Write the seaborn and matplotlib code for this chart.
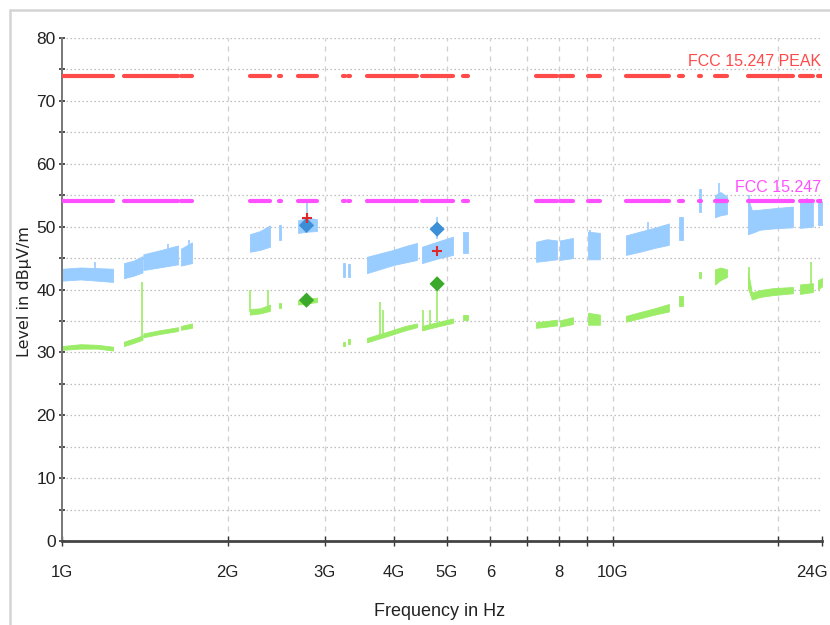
import numpy as np
import pandas as pd
import matplotlib
matplotlib.use("Agg")
import matplotlib.pyplot as plt
from matplotlib.lines import Line2D
from matplotlib.transforms import ScaledTranslation
import seaborn as sns

# ---------------- data (GHz / dBuV/m) ----------------
seg_start = [1.000, 1.296, 1.405, 1.645, 2.194, 2.478, 2.683, 3.238, 3.300, 3.579, 4.505,
             5.350, 7.260, 8.020, 9.020, 10.57, 13.20, 14.35, 15.34, 17.61, 21.88, 23.60]
seg_stop = [1.238, 1.400, 1.624, 1.722, 2.386, 2.500, 2.904, 3.270, 3.334, 4.412, 5.129,
            5.460, 7.920, 8.470, 9.480, 12.65, 13.40, 14.45, 16.13, 21.25, 23.10, 24.00]

limit_peak = 74.0
limit_avg = 54.0

# trace envelope points: segment id, frequency, peak lo/hi, average lo/hi
tr_seg = [0, 0, 0, 0, 1, 1, 1, 2, 2, 2, 3, 3, 4, 4, 4, 5, 5, 6, 6, 6, 7, 7, 8, 8,
          9, 9, 9, 9, 9, 10, 10, 10, 11, 11, 12, 12, 12, 13, 13, 14, 14,
          15, 15, 15, 15, 16, 16, 17, 17, 18, 18, 18, 19, 19, 19, 19, 19, 20, 20, 21, 21]
tr_f = [1.000, 1.080, 1.160, 1.238, 1.296, 1.350, 1.400, 1.405, 1.500, 1.624, 1.645, 1.722,
        2.194, 2.290, 2.386, 2.478, 2.500, 2.683, 2.790, 2.904, 3.238, 3.270, 3.300, 3.334,
        3.579, 3.800, 4.000, 4.200, 4.412, 4.505, 4.800, 5.129, 5.350, 5.460,
        7.260, 7.600, 7.920, 8.020, 8.470, 9.020, 9.480,
        10.57, 11.20, 11.90, 12.65, 13.20, 13.40, 14.35, 14.45, 15.34, 15.70, 16.13,
        17.61, 17.90, 18.50, 19.50, 21.25, 21.88, 23.10, 23.60, 24.00]
peak_lo = [41.4, 41.6, 41.4, 41.2, 41.8, 42.2, 42.7, 43.1, 43.5, 44.0, 43.8, 44.2,
           46.0, 46.3, 46.8, 47.9, 47.9, 49.0, 49.2, 49.3, 42.0, 42.0, 42.0, 42.0,
           42.6, 43.3, 43.9, 44.3, 44.7, 44.2, 44.9, 45.5, 45.8, 45.8,
           44.4, 44.6, 44.8, 44.7, 45.0, 44.8, 44.8,
           45.5, 46.0, 46.6, 47.1, 47.9, 47.9, 52.3, 52.3, 51.5, 51.8, 52.0,
           48.8, 49.0, 49.5, 49.7, 49.9, 49.8, 50.0, 50.3, 50.3]
peak_hi = [43.3, 43.5, 43.4, 43.3, 44.2, 44.6, 45.3, 45.6, 46.2, 47.0, 46.5, 47.5,
           48.8, 49.3, 50.2, 50.3, 50.3, 51.0, 51.4, 51.2, 44.2, 44.2, 44.0, 44.0,
           45.2, 45.8, 46.3, 46.9, 47.4, 46.8, 47.6, 48.4, 49.2, 49.2,
           47.6, 48.0, 47.8, 47.8, 48.2, 49.2, 49.0,
           48.6, 49.2, 49.8, 50.5, 51.6, 51.6, 56.0, 56.0, 55.0, 55.5, 54.8,
           54.5, 52.6, 52.7, 52.9, 53.2, 53.8, 53.8, 54.0, 54.0]
avg_lo = [30.4, 30.6, 30.6, 30.3, 31.0, 31.5, 32.0, 32.4, 32.9, 33.4, 33.6, 33.9,
          36.0, 36.2, 36.6, 37.0, 37.0, 37.6, 37.8, 38.0, 31.0, 31.0, 31.4, 31.4,
          31.6, 32.3, 32.9, 33.5, 34.0, 33.5, 34.1, 34.7, 35.1, 35.1,
          33.9, 34.1, 34.3, 34.1, 34.5, 34.4, 34.4,
          34.9, 35.4, 36.0, 36.5, 37.3, 37.3, 41.8, 41.8, 40.8, 41.5, 42.0,
          40.2, 38.4, 38.8, 39.1, 39.4, 39.3, 39.6, 40.0, 40.5]
avg_hi = [31.0, 31.3, 31.2, 30.9, 31.7, 32.2, 32.7, 33.0, 33.5, 34.0, 34.2, 34.6,
          36.9, 37.0, 37.6, 37.8, 37.8, 38.3, 38.6, 38.7, 31.6, 31.6, 32.2, 32.2,
          32.3, 33.0, 33.6, 34.2, 34.6, 34.2, 34.8, 35.4, 36.0, 36.0,
          34.8, 35.0, 35.2, 35.1, 35.6, 36.3, 36.0,
          35.8, 36.4, 37.0, 37.7, 38.9, 38.9, 42.8, 42.8, 43.2, 43.5, 43.2,
          43.0, 39.5, 39.9, 40.2, 40.4, 40.8, 41.0, 41.5, 41.8]

# isolated spikes in the traces
peak_spike_f = [1.000, 1.150, 1.560, 1.700, 2.780, 4.800, 9.100, 11.60, 15.60, 17.65, 22.50]
peak_spike_lo = [43.0, 43.0, 46.0, 46.5, 51.0, 48.0, 48.5, 49.5, 54.0, 53.0, 53.0]
peak_spike_hi = [45.0, 44.3, 47.3, 47.8, 53.8, 51.5, 49.5, 50.8, 56.9, 55.0, 54.6]
avg_spike_f = [1.000, 1.397, 2.196, 2.370, 3.780, 3.820, 4.520, 4.660, 4.800, 17.65, 22.90]
avg_spike_lo = [31.0, 32.5, 36.5, 37.0, 32.5, 32.7, 33.8, 34.2, 34.8, 40.5, 40.5]
avg_spike_hi = [38.5, 41.2, 39.9, 40.0, 38.0, 36.7, 36.8, 36.7, 40.9, 43.6, 44.4]

# final measurement markers
mark_f = [2.78, 4.80]
mark_preview = [51.3, 46.2]
mark_peak = [50.2, 49.6]
mark_avg = [38.3, 40.9]

x_ticks = [1, 2, 3, 4, 5, 6, 7, 8, 9, 10, 20, 24]
x_labels = ["1G", "2G", "3G", "4G", "5G", "6", "", "8", "", "10G", "", "24G"]
v_grid = [2, 3, 4, 5, 6, 7, 8, 9, 10, 20]

# ---------------- styling ----------------
sns.set_theme(style="white")
plt.rcParams["font.family"] = ["Liberation Sans", "DejaVu Sans"]

C_PEAK = "#99CCFF"
C_AVG = "#9BEC66"
C_RED = "#FF4A4A"
C_MAG = "#FF50FF"

W, H = 830, 625
fig = plt.figure(figsize=(W / 100, H / 100), dpi=100)
fig.patch.set_facecolor("white")
ax = fig.add_axes([62 / W, 1 - 541 / H, 760 / W, 503 / H])
ax.set_facecolor("white")

# outer panel border
fig.add_artist(Line2D([10 / W, 1.0], [1 - 10 / H, 1 - 10 / H], color="#D4D4D4", lw=1.8,
                      transform=fig.transFigure))
fig.add_artist(Line2D([10 / W, 10 / W], [0.0, 1 - 10 / H], color="#D4D4D4", lw=1.8,
                      transform=fig.transFigure))

ax.set_xscale("log")
ax.set_xlim(1, 24)
ax.set_ylim(0, 80)

# grid
for yv in range(5, 81, 5):
    ax.axhline(yv, color="#BDBDBD", lw=0.9, ls=(0, (1.2, 2.0)), zorder=0)
for xv in v_grid:
    ax.axvline(xv, color="#CFCFCF", lw=0.9, ls=(0, (4, 4)), zorder=0)

# traces (bands)
df = pd.DataFrame({"seg": tr_seg, "f": tr_f, "plo": peak_lo, "phi": peak_hi,
                   "alo": avg_lo, "ahi": avg_hi})
for s, g in df.groupby("seg"):
    ax.fill_between(g["f"], g["plo"], g["phi"], color=C_PEAK, lw=0.6, edgecolor=C_PEAK, zorder=2)
    ax.fill_between(g["f"], g["alo"], g["ahi"], color=C_AVG, lw=0.6, edgecolor=C_AVG, zorder=2)

ax.vlines(peak_spike_f, peak_spike_lo, peak_spike_hi, color=C_PEAK, lw=1.2, zorder=2)
ax.vlines(avg_spike_f, avg_spike_lo, avg_spike_hi, color=C_AVG, lw=1.2, zorder=2)

# limit lines drawn over the measured sub-ranges
rows = []
for i, (a, b) in enumerate(zip(seg_start, seg_stop)):
    rows.append({"seg": i, "f": a, "pk": limit_peak, "av": limit_avg})
    rows.append({"seg": i, "f": b, "pk": limit_peak, "av": limit_avg})
lim = pd.DataFrame(rows)
sns.lineplot(data=lim, x="f", y="pk", units="seg", estimator=None, color=C_RED, lw=3.0,
             ax=ax, legend=False, zorder=3, sort=False)
sns.lineplot(data=lim, x="f", y="av", units="seg", estimator=None, color=C_MAG, lw=3.0,
             ax=ax, legend=False, zorder=3, sort=False)

ax.text(23.9, limit_peak + 1.0, "FCC 15.247 PEAK", color=C_RED, fontsize=11.5,
        ha="right", va="bottom", zorder=4)
ax.text(23.9, limit_avg + 1.0, "FCC 15.247", color=C_MAG, fontsize=11.5,
        ha="right", va="bottom", zorder=4)

# markers
mk = pd.DataFrame({"f": mark_f, "pre": mark_preview, "pk": mark_peak, "av": mark_avg})
sns.scatterplot(data=mk, x="f", y="pk", marker="D", s=60, color="#3D8FD6", edgecolor="none",
                ax=ax, zorder=5, legend=False)
sns.scatterplot(data=mk, x="f", y="av", marker="D", s=60, color="#3BAA2A", edgecolor="none",
                ax=ax, zorder=5, legend=False)
sns.scatterplot(data=mk, x="f", y="pre", marker="+", s=50, color="#E02828", linewidth=1.5,
                ax=ax, zorder=6, legend=False)

# axes styling
ax.set_xticks(x_ticks)
ax.set_xticklabels(x_labels)
ax.set_xticks([], minor=True)
ax.set_yticks(range(0, 81, 10))
ax.set_yticks(range(5, 80, 10), minor=True)
ax.tick_params(axis="y", which="both", direction="inout", length=5, width=1.2,
               color="#333333", pad=2, labelsize=12.5, labelcolor="#222222", left=True)
ax.tick_params(axis="x", which="major", direction="inout", length=7, width=1.0,
               color="#333333", pad=14, labelsize=12, labelcolor="#222222", bottom=True)
last = ax.get_xticklabels()[-1]
last.set_horizontalalignment("right")
last.set_transform(last.get_transform() + ScaledTranslation(6 / 100, 0, fig.dpi_scale_trans))
ax.set_xlabel("")
ax.set_ylabel("")
for side in ["top", "right"]:
    ax.spines[side].set_visible(False)
ax.spines["left"].set_color("#777777")
ax.spines["left"].set_linewidth(1.4)
ax.spines["bottom"].set_color("#444444")
ax.spines["bottom"].set_linewidth(2.0)

fig.text(440 / W, 1 - 612 / H, "Frequency in Hz", ha="center", va="center",
         fontsize=13, color="#222222")
fig.text(25 / W, 1 - 292 / H, "Level in dBµV/m", ha="center", va="center", rotation=90,
         fontsize=11.5, color="#222222", family=["DejaVu Sans"])

fig.savefig("out.png", dpi=100, facecolor="white")
